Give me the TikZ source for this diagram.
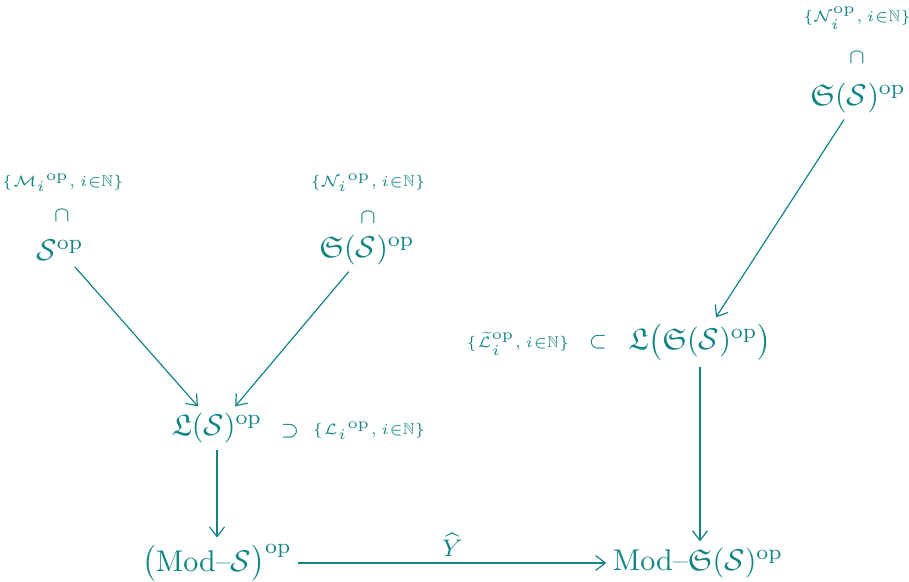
\documentclass[tikz,border=0pt]{standalone}
\usepackage{amsmath,amssymb}
\usetikzlibrary{arrows.meta}
\definecolor{tl}{RGB}{18,132,132}
\begin{document}
\begin{tikzpicture}[x=0.3333pt,y=-0.3333pt,
  every node/.style={text=tl},
  obj/.style={inner sep=2pt},
  lbl/.style={font=\fontsize{5.2}{6}\selectfont,inner sep=1pt},
  rel/.style={font=\scriptsize,inner sep=1pt},
  arr/.style={draw=tl,line width=0.4pt,-{Straight Barb[length=3.2pt,width=5pt]}}]
\useasboundingbox (0,0) rectangle (909,582);
% top-left
\node[lbl] (lm) at (63,183) {$\{\mathcal{M}_i{}^{\mathrm{op}}, i{\in}\mathbb{N}\}$};
\node[rel] (cm) at (62,216) {$\cap$};
\node[obj] (sop) at (60,250) {$\mathcal{S}^{\mathrm{op}}$};
% top-middle
\node[lbl] (ln) at (368,183) {$\{\mathcal{N}_i{}^{\mathrm{op}}, i{\in}\mathbb{N}\}$};
\node[rel] (cn) at (368,218) {$\cap$};
\node[obj] (ssop) at (367,250) {$\mathfrak{S}(\mathcal{S})^{\mathrm{op}}$};
% top-right
\node[lbl] (lr) at (857,18) {$\{\mathcal{N}_i^{\mathrm{op}}, i{\in}\mathbb{N}\}$};
\node[rel] (cr) at (857,58) {$\cap$};
\node[obj] (ssr) at (858,98) {$\mathfrak{S}(\mathcal{S})^{\mathrm{op}}$};
% middle
\node[obj] (ls) at (217,428) {$\mathfrak{L}(\mathcal{S})^{\mathrm{op}}$};
\node[rel] (sup1) at (290,431) {$\supset$};
\node[lbl] (ll) at (369,431) {$\{\mathcal{L}_i{}^{\mathrm{op}}, i{\in}\mathbb{N}\}$};
\node[obj] (lss) at (700,342) {$\mathfrak{L}\bigl(\mathfrak{S}(\mathcal{S})^{\mathrm{op}}\bigr)$};
\node[rel] (sub1) at (598,342) {$\subset$};
\node[lbl] (lt) at (518,344) {$\{\widetilde{\mathcal{L}}_i^{\mathrm{op}}, i{\in}\mathbb{N}\}$};
% bottom
\node[obj] (mods) at (217,563) {$\bigl(\mathrm{Mod}\text{--}\mathcal{S}\bigr)^{\mathrm{op}}$};
\node[obj] (modss) at (698,563) {$\mathrm{Mod}\text{--}\mathfrak{S}(\mathcal{S})^{\mathrm{op}}$};
% arrows
\draw[arr] (sop) -- (ls);
\draw[arr] (ssop) -- (ls);
\draw[arr] (ssr) -- (lss);
\draw[arr] (ls) -- (mods);
\draw[arr] (lss.south) -- (lss.south |- modss.north);
\draw[arr] (mods) -- node[above,text=tl,font=\footnotesize,inner sep=2pt]{$\widehat{Y}$} (modss);
\end{tikzpicture}
\end{document}
